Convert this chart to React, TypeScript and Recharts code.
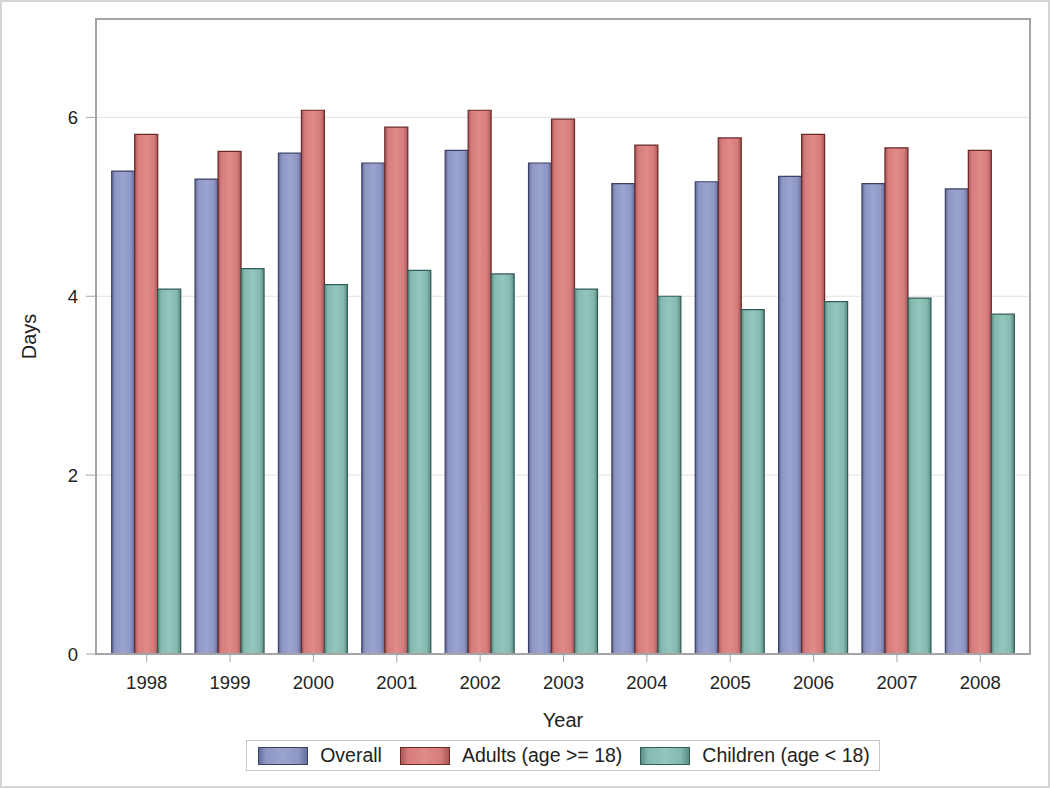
import * as R from "recharts";
import { BarChart, Bar, XAxis, YAxis, CartesianGrid, Legend } from "recharts";

const years = ["1998", "1999", "2000", "2001", "2002", "2003", "2004", "2005", "2006", "2007", "2008"];
const overall = [5.4, 5.31, 5.6, 5.49, 5.63, 5.49, 5.26, 5.28, 5.34, 5.26, 5.2];
const adults = [5.81, 5.62, 6.08, 5.89, 6.08, 5.98, 5.69, 5.77, 5.81, 5.66, 5.63];
const children = [4.08, 4.31, 4.13, 4.29, 4.25, 4.08, 4.0, 3.85, 3.94, 3.98, 3.8];
const yTicks = [0, 2, 4, 6];
const yMax = 7.1;

const series = [
  { key: "overall", name: "Overall", edge: "#606a98", base: "#8e97c4", light: "#9ba4cf", stroke: "#3b4266" },
  { key: "adults", name: "Adults (age >= 18)", edge: "#a85656", base: "#d67c7c", light: "#e08a8a", stroke: "#6a2a2a" },
  { key: "children", name: "Children (age < 18)", edge: "#588a82", base: "#85bab0", light: "#93c6bc", stroke: "#345c56" },
];

const data = years.map((year, i) => ({
  year,
  overall: overall[i],
  adults: adults[i],
  children: children[i],
}));

const frame = "#a4a4a8";

// plot-area border (top/right edges; left/bottom come from the axes)
const usePlotArea: () => any = (R as any).usePlotArea || (() => null);

function PlotFrame() {
  const area = usePlotArea();
  if (!area) return null;
  return (
    <rect
      x={area.x}
      y={area.y}
      width={area.width}
      height={area.height}
      fill="none"
      stroke={frame}
      strokeWidth={2}
    />
  );
}

function LegendBox() {
  return (
    <div style={{ display: "flex", justifyContent: "center", paddingTop: 10, height: 58, boxSizing: "border-box" }}>
      <div
        style={{
          display: "flex",
          alignItems: "center",
          border: "1px solid #c8c8c8",
          height: 31,
          padding: "0 9px 0 11px",
          boxSizing: "border-box",
        }}
      >
        {series.map((s, i) => (
          <div key={s.key} style={{ display: "flex", alignItems: "center", marginLeft: i ? 18 : 0 }}>
            <svg width={50} height={18}>
              <rect x={0.5} y={0.5} width={49} height={17} fill={`url(#g-${s.key})`} stroke={s.stroke} />
            </svg>
            <span style={{ marginLeft: 12, fontSize: 19.5, color: "#222" }}>{s.name}</span>
          </div>
        ))}
      </div>
    </div>
  );
}

export default function App() {
  return (
    <div
      style={{
        position: "fixed",
        left: 0,
        top: 0,
        width: 1050,
        height: 788,
        background: "#fff",
        fontFamily: "'Liberation Sans', Arial, sans-serif",
      }}
    >
      <BarChart
        width={1050}
        height={788}
        data={data}
        margin={{ top: 19, right: 20, left: 0, bottom: 0 }}
        barGap={0}
        barCategoryGap={6.7}
      >
        <defs>
          {series.map((s) => (
            <linearGradient key={s.key} id={`g-${s.key}`} x1="0" y1="0" x2="1" y2="0">
              <stop offset="0%" stopColor={s.edge} />
              <stop offset="15%" stopColor={s.base} />
              <stop offset="50%" stopColor={s.light} />
              <stop offset="82%" stopColor={s.base} />
              <stop offset="100%" stopColor={s.edge} />
            </linearGradient>
          ))}
        </defs>
        <CartesianGrid vertical={false} stroke="#e2e2e2" />
        <PlotFrame />
        <XAxis
          dataKey="year"
          height={76}
          padding={{ left: 9, right: 8 }}
          tick={{ fontSize: 18.5, fill: "#222" }}
          tickSize={8}
          tickMargin={14}
          tickLine={{ stroke: frame }}
          axisLine={{ stroke: frame, strokeWidth: 2 }}
          label={{ value: "Year", position: "insideBottom", offset: 3, fontSize: 20, fill: "#222" }}
        />
        <YAxis
          width={96}
          domain={[0, yMax]}
          ticks={yTicks}
          tick={{ fontSize: 18.5, fill: "#222" }}
          tickSize={10}
          tickMargin={8}
          tickLine={{ stroke: frame }}
          axisLine={{ stroke: frame, strokeWidth: 2 }}
          label={{
            value: "Days",
            angle: -90,
            position: "insideLeft",
            offset: 29,
            fontSize: 20,
            fill: "#222",
            style: { textAnchor: "middle" },
          }}
        />
        <Legend verticalAlign="bottom" content={() => <LegendBox />} wrapperStyle={{ left: 96, width: 934 }} />
        {series.map((s) => (
          <Bar
            key={s.key}
            dataKey={s.key}
            name={s.name}
            fill={`url(#g-${s.key})`}
            stroke={s.stroke}
            strokeWidth={1.2}
            isAnimationActive={false}
          />
        ))}
      </BarChart>
      <div
        style={{
          position: "absolute",
          inset: 0,
          border: "2px solid #d6d6d6",
          pointerEvents: "none",
        }}
      />
    </div>
  );
}
